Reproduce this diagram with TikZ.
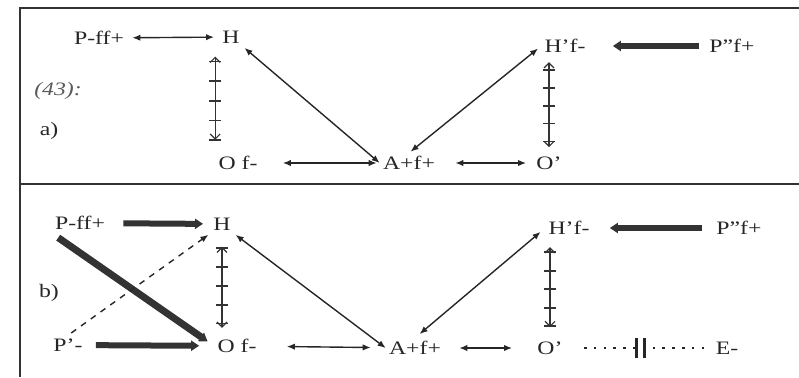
\documentclass[tikz,border=0pt]{standalone}
\usepackage{fontspec}
\setmainfont{Liberation Serif}[FakeStretch=1.25]
\usepackage{tikz}
\usetikzlibrary{arrows.meta,decorations.markings}

\begin{document}
\begin{tikzpicture}[x=0.5pt, y=-0.5pt, every node/.style={font=\fontsize{9.5}{11}\selectfont, inner sep=1.5pt, text=black!85}]
    \tikzstyle{link} = [draw=black!85, line width=0.7pt, {Latex[length=4pt,width=3.2pt]}-{Latex[length=4pt,width=3.2pt]}]
    \tikzstyle{heavy} = [draw=black!80, line width=3pt, -{Triangle[length=4pt,width=5pt]}]
    \tikzstyle{chain} = [draw=black!80, line width=0.6pt,
        {Straight Barb[length=2.5pt,width=5pt]}-{Straight Barb[length=2.5pt,width=5pt]},
        decoration={markings, mark=between positions 0.14 and 0.88 step 0.185 with
            {\draw[arrows=-, shorten <=0pt, shorten >=0pt, line width=0.9pt] (0pt,-3pt) -- (0pt,3pt);}},
        postaction={decorate}]
    \useasboundingbox (0,0) rectangle (799,377);

    % frame
    \draw[black!80, line width=1pt] (799,8) -- (20,8) -- (20,377);
    \draw[black!80, line width=1.2pt] (20,184) -- (799,184);

    % (43) a)
    \node (num) [font=\fontsize{9.5}{11}\selectfont\itshape, text=black!65] at (58,91) {(43):};
    \node (la) at (49,131) {a)};
    \node (pa) at (99,38) {P-ff+};
    \node (ha) at (231,37) {H};
    \node (ofa) at (238,163) {O f-};
    \node (aa) at (409,163) {A+f+};
    \node (opa) at (549,163) {O'};
    \node (hpa) at (565,46) {H'f-};
    \node (ppa) at (732,46) {P''f+};

    \draw [link, shorten <=2.5pt, shorten >=2.5pt] (pa) -- (ha);
    \draw [link, shorten <=11pt, shorten >=1.5pt] (ofa) -- (aa);
    \draw [link, shorten <=8.5pt, shorten >=3.5pt] (aa) -- (opa);
    \draw [link, shorten >=1pt] (aa.west) -- (ha.south east);
    \draw [link, shorten <=1pt, shorten >=2pt] (aa.north) -- (hpa.west);
    \draw [heavy, shorten <=3.5pt, shorten >=12pt] (ppa) -- (hpa);
    \draw [chain, shorten <=5pt, shorten >=6.5pt] (ha.south -| ofa.west) -- (ofa.north west);
    \draw [chain, shorten <=3pt, shorten >=3pt] (opa.north |- hpa.south) -- (opa.north);

    % b)
    \node (lb) at (49,293) {b)};
    \node (pb) at (80,223) {P-ff+};
    \node (hb) at (222,224) {H};
    \node (pq) at (68,345) {P'-};
    \node (ofb) at (237,346) {O f-};
    \node (ab) at (415,348) {A+f+};
    \node (opb) at (550,348) {O'};
    \node (eb) at (727,348) {E-};
    \node (hpb) at (569,228) {H'f-};
    \node (ppb) at (739,228) {P''f+};

    \draw [heavy, shorten <=7.5pt, shorten >=3.5pt] (pb) -- (hb);
    \draw [heavy, line width=3.5pt, shorten <=4pt, shorten >=4pt] (pb.south west) -- (ofb.west);
    \draw [draw=black!85, line width=0.7pt, dashed, -{Latex[length=4pt,width=3.2pt]}, shorten <=2pt, shorten >=1pt] (pq.north) -- (hb.south west);
    \draw [heavy, shorten <=5pt, shorten >=7.5pt] (pq) -- (ofb);
    \draw [link, shorten <=13.5pt, shorten >=7.5pt] (ofb) -- (ab);
    \draw [link, shorten <=7.5pt, shorten >=11pt] (ab) -- (opb);
    \draw [link, shorten >=1pt] (ab.west) -- (hb.south east);
    \draw [link, shorten <=3pt, shorten >=3pt] (ab.north) -- (hpb.west);
    \draw [heavy, shorten <=5.5pt, shorten >=8.5pt] (ppb) -- (hpb);
    \draw [chain, shorten <=6.5pt, shorten >=4pt] (hb.south) -- (hb.south |- ofb.north);
    \draw [chain, shorten <=4.5pt, shorten >=5.5pt] (opb.north |- hpb.south) -- (opb.north);
    \draw [black!85, line width=1.3pt, dash pattern=on 1.3pt off 3.6pt, shorten <=9pt, shorten >=3.5pt] (opb) -- (eb) coordinate[pos=0.51] (cut);
    \draw [black!85, line width=1.2pt] ([xshift=-2pt,yshift=-5pt]cut) -- ([xshift=-2pt,yshift=5pt]cut)
        ([xshift=2pt,yshift=-5pt]cut) -- ([xshift=2pt,yshift=5pt]cut);
\end{tikzpicture}
\end{document}
